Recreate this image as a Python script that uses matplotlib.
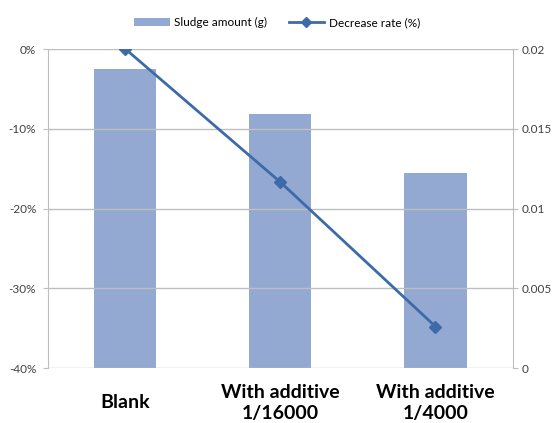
import matplotlib
matplotlib.use('Agg')
import matplotlib.pyplot as plt
from matplotlib.ticker import PercentFormatter
import numpy as np

plt.rcParams['font.family'] = ['Lato', 'DejaVu Sans']
plt.rcParams['axes.unicode_minus'] = False

categories = ['Blank', 'With additive\n1/16000', 'With additive\n1/4000']
sludge_amount = [0.01875, 0.0159, 0.0122]
decrease_rate = [0.0, -0.167, -0.348]

bar_color = '#93A9D1'
line_color = '#3D6BA9'
grid_color = '#BEBEBE'
text_color = '#404040'

fig = plt.figure(figsize=(5.54, 4.23), dpi=100)
ax = fig.add_axes([0.0866, 0.13, 0.8394, 0.754])
ax2 = ax.twinx()

x = np.arange(len(categories))

# bars on the right axis, line on the left axis
ax2.bar(x, sludge_amount, width=0.4, color=bar_color, zorder=2, label='Sludge amount (g)')
ax2.set_ylim(0, 0.02)
ax2.set_yticks([0, 0.005, 0.01, 0.015, 0.02])
ax2.set_yticklabels(['0', '0.005', '0.01', '0.015', '0.02'])

ax.set_ylim(-0.4, 0)
ax.set_yticks([-0.4, -0.3, -0.2, -0.1, 0])
ax.yaxis.set_major_formatter(PercentFormatter(1, decimals=0))
ax.set_xlim(-0.5, 2.5)
ax.set_xticks(x)
ax.set_xticklabels(categories, fontsize=14, fontweight='bold', color='black',
                   va='center', linespacing=1.3)
ax.tick_params(axis='x', length=0, pad=25)
ax.grid(axis='y', color=grid_color, linewidth=1)
ax.set_axisbelow(True)

# put the line on top of the bars
ax.set_zorder(ax2.get_zorder() + 1)
ax.patch.set_visible(False)
ax.plot(x, decrease_rate, color=line_color, linewidth=2, marker='D', markersize=6,
        label='Decrease rate (%)', zorder=3)

for a in (ax, ax2):
    for s in ('top', 'bottom'):
        a.spines[s].set_visible(False)
    a.spines['left'].set_color(grid_color)
    a.spines['right'].set_color(grid_color)
    a.tick_params(axis='y', labelsize=8.5, colors=text_color, length=3.5, color=grid_color)
ax.spines['right'].set_visible(False)
ax2.spines['left'].set_visible(False)
ax.tick_params(axis='y', pad=5)
ax2.tick_params(axis='y', pad=3)

h1, l1 = ax2.get_legend_handles_labels()
h2, l2 = ax.get_legend_handles_labels()
fig.legend(h1 + h2, l1 + l2, loc='center', bbox_to_anchor=(0.5, 0.947), ncol=2,
           frameon=False, fontsize=8.5, handlelength=3.0, columnspacing=1.8,
           handletextpad=0.4, markerscale=0.8)

fig.savefig('out.png', dpi=100)
